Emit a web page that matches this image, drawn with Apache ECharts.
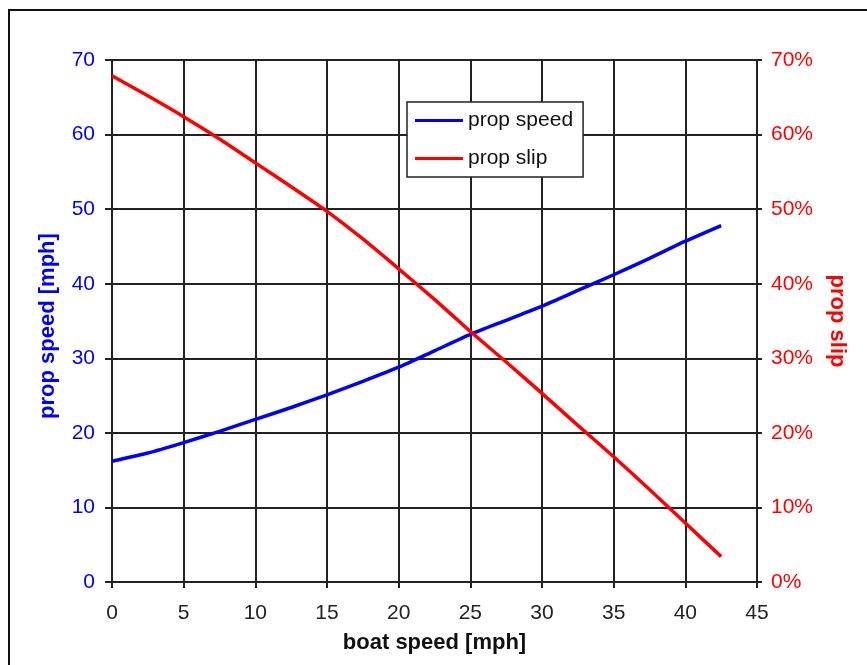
<!DOCTYPE html>
<html>
<head>
<meta charset="utf-8">
<script src="https://cdn.jsdelivr.net/npm/echarts@6/dist/echarts.min.js"></script>
<style>
html,body{margin:0;padding:0;background:#fff;}
#c{width:867px;height:665px;}
</style>
</head>
<body>
<div id="c"></div>
<script>
// boat speed [mph]
var boatSpeed = [0, 2.5, 5, 7.5, 10, 12.5, 15, 17.5, 20, 22.5, 25, 27.5, 30, 32.5, 35, 37.5, 40, 42.5];
// prop speed [mph]
var propSpeed = [16.2, 17.3, 18.7, 20.2, 21.8, 23.4, 25.1, 26.9, 28.8, 31.0, 33.2, 35.1, 37.0, 39.1, 41.2, 43.4, 45.7, 47.8];
// prop slip [%]
var propSlip = [67.9, 65.2, 62.4, 59.4, 56.2, 53.0, 49.7, 46.0, 42.0, 37.9, 33.6, 29.5, 25.3, 21.0, 16.8, 12.4, 7.9, 3.4];

var xTicks = {min: 0, max: 45, interval: 5};
var leftTicks = {min: 0, max: 70, interval: 10};
var rightTicks = {min: 0, max: 70, interval: 10};

function pairs(xs, ys) {
  return xs.map(function (x, i) { return [x, ys[i]]; });
}

var FONT = '"Liberation Sans", Arial, sans-serif';
var chart = echarts.init(document.getElementById('c'));
chart.setOption({
  animation: false,
  backgroundColor: '#ffffff',
  textStyle: {fontFamily: FONT},
  graphic: [{
    type: 'rect',
    shape: {x: 9, y: 10, width: 2000, height: 2000},
    style: {fill: null, stroke: '#111', lineWidth: 2},
    silent: true,
    z: 0
  }],
  grid: {left: 112, right: 110, top: 60, bottom: 83, containLabel: false},
  legend: {
    orient: 'vertical',
    left: 407,
    top: 102,
    padding: [8, 10, 8, 8],
    borderColor: '#222',
    borderWidth: 1.5,
    backgroundColor: '#fff',
    itemWidth: 48,
    itemHeight: 3,
    itemGap: 17,
    icon: 'rect',
    textStyle: {fontFamily: FONT, fontSize: 21, color: '#111'},
    data: ['prop speed', 'prop slip']
  },
  xAxis: {
    type: 'value',
    min: xTicks.min, max: xTicks.max, interval: xTicks.interval,
    name: 'boat speed [mph]',
    nameLocation: 'middle',
    nameGap: 50,
    nameTextStyle: {fontFamily: FONT, fontSize: 22, fontWeight: 'bold', color: '#111'},
    axisLine: {show: true, onZero: false, lineStyle: {color: '#222', width: 2}},
    axisTick: {show: true, length: 6, lineStyle: {color: '#222', width: 2}},
    axisLabel: {fontFamily: FONT, fontSize: 21, color: '#222', margin: 21},
    splitLine: {show: true, lineStyle: {color: '#222', width: 2}}
  },
  yAxis: [{
    type: 'value',
    position: 'left',
    min: leftTicks.min, max: leftTicks.max, interval: leftTicks.interval,
    name: 'prop speed [mph]',
    nameLocation: 'middle',
    nameRotate: 90,
    nameGap: 53,
    nameTextStyle: {fontFamily: FONT, fontSize: 22, fontWeight: 'bold', color: '#0000ff', padding: [0, 10, 0, 0]},
    axisLine: {show: true, lineStyle: {color: '#222', width: 2}},
    axisTick: {show: true, length: 7, lineStyle: {color: '#222', width: 2}},
    axisLabel: {fontFamily: FONT, fontSize: 21, color: '#0000ff', margin: 17},
    splitLine: {show: true, lineStyle: {color: '#222', width: 2}}
  }, {
    type: 'value',
    position: 'right',
    min: rightTicks.min, max: rightTicks.max, interval: rightTicks.interval,
    name: 'prop slip',
    nameLocation: 'middle',
    nameRotate: -90,
    nameGap: 69,
    nameTextStyle: {fontFamily: FONT, fontSize: 22, fontWeight: 'bold', color: '#ff0000'},
    axisLine: {show: true, lineStyle: {color: '#222', width: 2}},
    axisTick: {show: true, length: 5, lineStyle: {color: '#222', width: 2}},
    axisLabel: {fontFamily: FONT, fontSize: 21, color: '#ff0000', margin: 14, formatter: '{value}%'},
    splitLine: {show: false}
  }],
  series: [{
    name: 'prop speed',
    type: 'line',
    yAxisIndex: 0,
    data: pairs(boatSpeed, propSpeed),
    showSymbol: false,
    symbol: 'none',
    smooth: 0.2,
    color: '#0000ff',
    lineStyle: {color: '#0000ff', width: 3.5},
    z: 3
  }, {
    name: 'prop slip',
    type: 'line',
    yAxisIndex: 1,
    data: pairs(boatSpeed, propSlip),
    showSymbol: false,
    symbol: 'none',
    smooth: 0.2,
    color: '#ff0000',
    lineStyle: {color: '#ff0000', width: 3.5},
    z: 3
  }]
});
</script>
</body>
</html>
